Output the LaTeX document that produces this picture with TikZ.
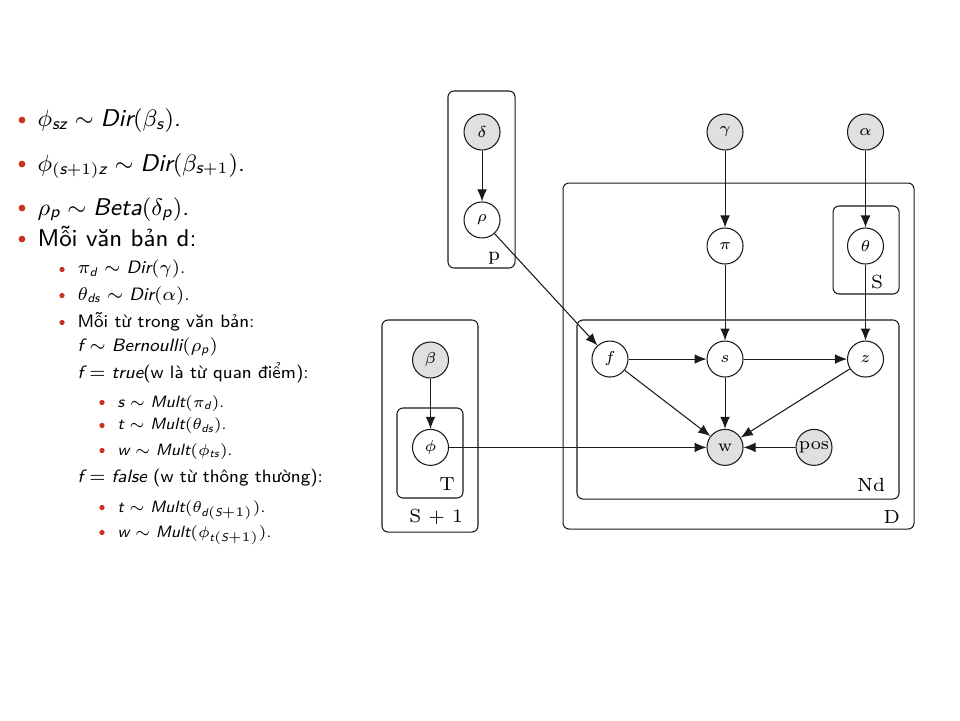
\documentclass[tikz,border=0pt]{standalone}
\usepackage{amsmath}
\usepackage{tikz}
\usetikzlibrary{positioning,fit,arrows.meta,calc}
\definecolor{cred}{HTML}{c8321e}
\definecolor{cobs}{HTML}{e0e0e0}
\definecolor{cink}{HTML}{1a1a1a}
\newcommand{\mv}[1]{\text{\sffamily\itshape #1}}

\begin{document}
\begin{tikzpicture}[every node/.style={font=\fontsize{6.5}{8}\selectfont},
    var/.style={draw=cink, circle, minimum size=.48cm, inner sep=0pt, fill=white},
    obs/.style={var, fill=cobs},
    plate/.style={draw=cink, rounded corners=.08cm, inner sep=0pt},
    platelbl/.style={anchor=base east, inner sep=0pt, font=\fontsize{7.2}{8.6}\selectfont},
    itema/.style={anchor=base west, inner sep=0pt, font=\sffamily\fontsize{9.2}{11}\selectfont},
    itemb/.style={anchor=base west, inner sep=0pt, font=\sffamily\fontsize{6.8}{8.2}\selectfont},
    itemc/.style={anchor=base west, inner sep=0pt, font=\sffamily\fontsize{6.2}{7.4}\selectfont},
    dota/.style={circle, fill=cred, inner sep=0pt, minimum size=.09cm},
    dotb/.style={circle, fill=cred, inner sep=0pt, minimum size=.07cm}]
      \fill[white] (0,0) rectangle (12.8,-9.6);
      \useasboundingbox (0,0) rectangle (12.8,-9.6);
      % left column
      \node[itema] (i1) at (.493,-1.693) {$\phi_{\mv{sz}} \sim \mv{Dir}(\beta_{\mv{s}})$.};
      \node[itema] (i2) at (.493,-2.28) {$\phi_{(\mv{s}+1)\mv{z}} \sim \mv{Dir}(\beta_{\mv{s}+1})$.};
      \node[itema] (i3) at (.493,-2.867) {$\rho_{\mv{p}} \sim \mv{Beta}(\delta_{\mv{p}})$.};
      \node[itema] (i4) at (.493,-3.28) {Mỗi văn bản d:};
      \node[itemb] (j1) at (1.027,-3.653) {$\pi_{\mv{d}} \sim \mv{Dir}(\gamma)$.};
      \node[itemb] (j2) at (1.027,-4.0) {$\theta_{\mv{ds}} \sim \mv{Dir}(\alpha)$.};
      \node[itemb] (j3) at (1.027,-4.36) {Mỗi từ trong văn bản:};
      \node[itemb] (j4) at (1.027,-4.68) {$\mv{f} \sim \mv{Bernoulli}(\rho_{\mv{p}})$};
      \node[itemb] (j5) at (1.027,-5.04) {$\mv{f} = \mv{true}$(w là từ quan điểm):};
      \node[itemc] (k1) at (1.56,-5.427) {$\mv{s} \sim \mv{Mult}(\pi_{\mv{d}})$.};
      \node[itemc] (k2) at (1.56,-5.733) {$\mv{t} \sim \mv{Mult}(\theta_{\mv{ds}})$.};
      \node[itemc] (k3) at (1.56,-6.067) {$\mv{w} \sim \mv{Mult}(\phi_{\mv{ts}})$.};
      \node[itemb] (j6) at (1.027,-6.427) {$\mv{f} = \mv{false}$ (w từ thông thường):};
      \node[itemc] (k4) at (1.56,-6.827) {$\mv{t} \sim \mv{Mult}(\theta_{\mv{d}(\mv{S}+1)})$.};
      \node[itemc] (k5) at (1.56,-7.16) {$\mv{w} \sim \mv{Mult}(\phi_{\mv{t}(\mv{S}+1)})$.};
      \foreach \n in {i1,i2,i3,i4}
        \node[dota] (b\n) at ([xshift=-.2cm,yshift=.093cm]\n.base west) {};
      \foreach \n in {j1,j2,j3,k1,k2,k3,k4,k5}
        \node[dotb] (b\n) at ([xshift=-.2cm,yshift=.06cm]\n.base west) {};
      % plates
      \node[plate, minimum width=.894cm, minimum height=2.36cm] (pp) at (6.42,-2.393) {};
      \node[plate, minimum width=4.68cm, minimum height=4.613cm] (pD) at (9.847,-4.747) {};
      \node[plate, minimum width=.88cm, minimum height=1.173cm] (pS) at (11.547,-3.333) {};
      \node[plate, minimum width=4.293cm, minimum height=2.387cm] (pN) at (9.84,-5.46) {};
      \node[plate, minimum width=1.28cm, minimum height=2.827cm] (pS1) at (5.733,-5.68) {};
      \node[plate, minimum width=.88cm, minimum height=1.2cm] (pT) at (5.733,-6.04) {};
      \node[platelbl] (lp) at ([xshift=-.2cm,yshift=.107cm]pp.south east) {p};
      \node[platelbl] (lD) at ([xshift=-.187cm,yshift=.08cm]pD.south east) {D};
      \node[platelbl] (lS) at ([xshift=-.213cm,yshift=.08cm]pS.south east) {S};
      \node[platelbl] (lN) at ([xshift=-.187cm,yshift=.107cm]pN.south east) {Nd};
      \node[platelbl] (lS1) at ([xshift=-.2cm,yshift=.133cm]pS1.south east) {S $+$ 1};
      \node[platelbl] (lT) at ([xshift=-.107cm,yshift=.107cm]pT.south east) {T};
      % variables
      \node[obs] (delta) at (6.427,-1.76) {$\delta$};
      \node[var] (rho) at (6.427,-2.933) {$\rho$};
      \node[obs] (gamma) at (9.667,-1.76) {$\gamma$};
      \node[obs] (alpha) at (11.54,-1.76) {$\alpha$};
      \node[var] (pi) at (9.667,-3.28) {$\pi$};
      \node[var] (theta) at (11.54,-3.28) {$\theta$};
      \node[var] (f) at (8.133,-4.787) {$f$};
      \node[var] (s) at (9.667,-4.787) {$s$};
      \node[var] (z) at (11.54,-4.787) {$z$};
      \node[obs] (w) at (9.667,-5.965) {w};
      \node[obs, font=\fontsize{6.8}{8}\selectfont] (pos) at (10.853,-5.965) {pos};
      \node[obs] (beta) at (5.74,-4.8) {$\beta$};
      \node[var] (phi) at (5.74,-5.965) {$\phi$};
      \foreach \a/\b in {delta/rho, rho/f, gamma/pi, alpha/theta, pi/s, theta/z, f/s, s/z, f/w, s/w, z/w, pos/w, phi/w, beta/phi}
        \draw[-{Latex[length=1.6mm,width=1.3mm]}, cink] (\a) -- (\b);
    \end{tikzpicture}
\end{document}
